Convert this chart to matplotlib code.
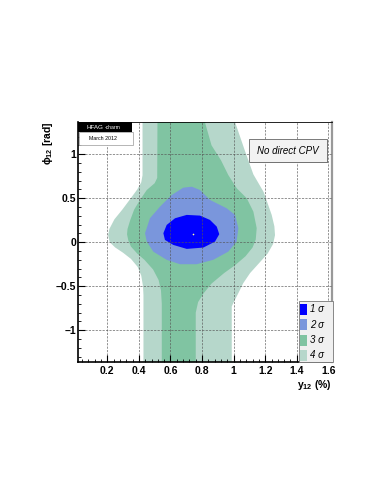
import matplotlib
matplotlib.use("Agg")
import matplotlib.pyplot as plt
from matplotlib.patches import Rectangle
from matplotlib.ticker import MultipleLocator, FuncFormatter

plt.rcParams['font.family'] = ['Liberation Sans', 'DejaVu Sans']
plt.rcParams['mathtext.fontset'] = 'custom'
plt.rcParams['mathtext.rm'] = 'Liberation Sans'
plt.rcParams['mathtext.it'] = 'Liberation Sans:italic'
plt.rcParams['mathtext.bf'] = 'Liberation Sans:bold'

# contour boundaries (x = y12 in %, y = phi12 in rad)
sig4_x = [0.423, 0.423, 0.415, 0.39, 0.345, 0.295, 0.245, 0.213, 0.205, 0.215, 0.25, 0.30,
          0.35, 0.392, 0.415, 0.426, 0.429, 0.429,
          0.988, 0.988, 0.998, 1.03, 1.061, 1.104, 1.16, 1.215, 1.25, 1.262, 1.258, 1.241,
          1.19, 1.125, 1.072, 1.009, 0.995]
sig4_y = [1.5, 0.76, 0.68, 0.60, 0.49, 0.37, 0.26, 0.15, 0.08, 0.0, -0.06, -0.12,
          -0.19, -0.28, -0.38, -0.5, -0.6, -1.5,
          -1.5, -0.73, -0.69, -0.578, -0.465, -0.351, -0.24, -0.13, -0.02, 0.08, 0.18, 0.31,
          0.57, 0.77, 1.035, 1.364, 1.5]

sig3_x = [0.518, 0.516, 0.50, 0.45, 0.407, 0.37, 0.345, 0.328, 0.325, 0.333, 0.35, 0.39,
          0.435, 0.49, 0.525, 0.54, 0.545, 0.545,
          0.76, 0.76, 0.775, 0.81, 0.86, 0.94, 1.01, 1.075, 1.12, 1.14, 1.146, 1.125, 1.083,
          1.02, 0.966, 0.92, 0.86, 0.818, 0.812]
sig3_y = [1.5, 0.73, 0.67, 0.593, 0.48, 0.37, 0.25, 0.15, 0.09, 0.02, -0.05, -0.13,
          -0.2, -0.31, -0.43, -0.55, -0.7, -1.5,
          -1.5, -0.8, -0.68, -0.58, -0.47, -0.35, -0.26, -0.16, -0.06, 0.03, 0.16, 0.347, 0.499,
          0.612, 0.763, 0.93, 1.1, 1.364, 1.5]

sig2_x = [0.439, 0.47, 0.534, 0.608, 0.681, 0.735, 0.787, 0.85, 0.956, 1.009, 1.03, 1.019,
          0.966, 0.871, 0.766, 0.66, 0.576, 0.491, 0.45]
sig2_y = [0.102, 0.272, 0.404, 0.536, 0.619, 0.63, 0.593, 0.48, 0.385, 0.31, 0.159, 0.007,
          -0.107, -0.2, -0.25, -0.25, -0.2, -0.107, 0.007]

sig1_x = [0.555, 0.576, 0.629, 0.703, 0.787, 0.85, 0.893, 0.909, 0.882, 0.808, 0.703,
          0.618, 0.565]
sig1_y = [0.102, 0.196, 0.272, 0.31, 0.302, 0.253, 0.177, 0.091, 0.007, -0.061, -0.076,
          -0.031, 0.026]

best_fit = (0.745, 0.091)

levels = ['1 σ', '2 σ', '3 σ', '4 σ']
colors = ['#0000ff', '#7a96dc', '#80c4a2', '#b6d7cb']

W, H = 383, 495


def fx(px):
    return px / W


def fy(py):
    return 1 - py / H


fig = plt.figure(figsize=(W / 100, H / 100), dpi=100)
ax = fig.add_axes([fx(77.7), fy(361.7), (331.7 - 77.7) / W, (361.7 - 122) / H])

ax.fill(sig4_x, sig4_y, color=colors[3], lw=0)
ax.fill(sig3_x, sig3_y, color=colors[2], lw=0)
ax.fill(sig2_x, sig2_y, color=colors[1], lw=0)
ax.fill(sig1_x, sig1_y, color=colors[0], lw=0)
ax.plot([best_fit[0]], [best_fit[1]], 'o', ms=1.2, color='#ffff99', mew=0)

ax.set_xlim(0.0125, 1.621)
ax.set_ylim(-1.357, 1.365)

ax.xaxis.set_major_locator(MultipleLocator(0.2))
ax.xaxis.set_minor_locator(MultipleLocator(0.04))
ax.yaxis.set_major_locator(MultipleLocator(0.5))
ax.yaxis.set_minor_locator(MultipleLocator(0.1))
ax.xaxis.set_major_formatter(FuncFormatter(lambda v, p: ('%g' % round(v, 2)).replace('-', '\u2013')))
ax.yaxis.set_major_formatter(FuncFormatter(lambda v, p: ('%g' % round(v, 2)).replace('-', '\u2013')))

ax.tick_params(which='both', direction='in', top=False, right=False, color='black')
ax.tick_params(which='major', length=5, width=0.8)
ax.tick_params(which='minor', length=2.5, width=0.6)
ax.tick_params(axis='x', pad=3, labelsize=7.5)
ax.tick_params(axis='y', pad=1, labelsize=7.5)
for lab in ax.get_xticklabels() + ax.get_yticklabels():
    lab.set_fontweight('bold')

ax.set_axisbelow(False)
ax.grid(True, which='major', color='#555555', lw=0.45, ls=(0, (3.5, 2)))

ax.spines['left'].set_linewidth(1.2)
ax.spines['bottom'].set_linewidth(1.2)
ax.spines['top'].set_linewidth(0.6)
ax.spines['right'].set_linewidth(1.6)
ax.spines['right'].set_color('#999999')

# axis titles
fig.text(fx(48), fy(121.7), r'$\mathbf{\phi}_{\mathbf{12}}$ [rad]', rotation=90,
         ha='center', va='top', fontsize=7.5, fontweight='bold')
fig.text(fx(331.7), fy(385.5), r'$\mathbf{y}_{\mathbf{12}}$ (%)', ha='right', va='center',
         fontsize=7.5, fontweight='bold')

# HFAG-charm label
fig.patches.append(Rectangle((fx(78.5), fy(145)), (133 - 78.5) / W, (145 - 132.3) / H,
                             transform=fig.transFigure, facecolor='white',
                             edgecolor='#aaaaaa', lw=0.6, zorder=5))
fig.patches.append(Rectangle((fx(77.7), fy(132.3)), (131.7 - 77.7) / W, (132.3 - 122) / H,
                             transform=fig.transFigure, facecolor='black', lw=0, zorder=6))
fig.text(fx(86.5), fy(127.3), 'HFAG', color='white', fontsize=4.5, ha='left', va='center',
         zorder=7)
fig.text(fx(104.5), fy(127.8), '-charm', color='white', fontsize=3.6, ha='left', va='center',
         zorder=7)
fig.text(fx(102.5), fy(138), 'March 2012', color='black', fontsize=3.8, ha='center',
         va='center', zorder=7)

# "No direct CPV" box
fig.patches.append(Rectangle((fx(250.3), fy(162.7)), (327.7 - 250.3) / W, (162.7 - 140) / H,
                             transform=fig.transFigure, facecolor='#888888', lw=0, zorder=5))
fig.patches.append(Rectangle((fx(249.3), fy(161.7)), (326.7 - 249.3) / W, (161.7 - 139) / H,
                             transform=fig.transFigure, facecolor='#f2f2f2',
                             edgecolor='#666666', lw=0.6, zorder=6))
fig.text(fx(288), fy(150.5), 'No direct CPV', style='italic', fontsize=7, ha='center',
         va='center', zorder=7)

# legend
fig.patches.append(Rectangle((fx(299.3), fy(361.7)), (332.5 - 299.3) / W, (361.7 - 300.7) / H,
                             transform=fig.transFigure, facecolor='#f0f0f0',
                             edgecolor='#777777', lw=0.6, zorder=5))
for i, (lab, c) in enumerate(zip(levels, colors)):
    yc = 309.3 + i * 15.4
    fig.patches.append(Rectangle((fx(300.3), fy(yc + 5.5)), 6.4 / W, 11 / H,
                                 transform=fig.transFigure, facecolor=c, lw=0, zorder=6))
    fig.text(fx(310), fy(yc), lab, style='italic', fontsize=7, ha='left', va='center',
             zorder=7)

fig.savefig('out.png', dpi=100)
